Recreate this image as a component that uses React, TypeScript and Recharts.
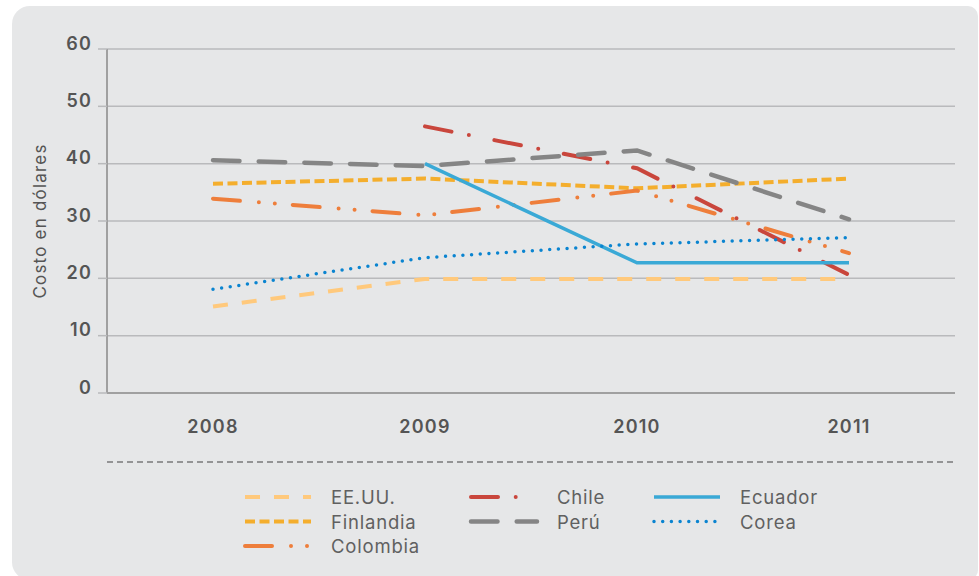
import React from 'react';
import { LineChart, Line, XAxis, YAxis, CartesianGrid, Legend } from 'recharts';

// Costo en dólares, 2008-2011
const years = ['2008', '2009', '2010', '2011'];
const eeuu = [15.1, 19.9, 19.9, 19.9];
const finlandia = [36.5, 37.4, 35.7, 37.4];
const colombia = [33.9, 31.0, 35.3, 24.4];
const chile = [null, 46.5, 39.2, 20.6];
const peru = [40.6, 39.6, 42.3, 30.3];
const ecuador = [null, 40.0, 22.7, 22.7];
const corea = [18.1, 23.6, 26.0, 27.1];

const yTicks = [0, 10, 20, 30, 40, 50, 60];
const bandEdges = [0, 1, 2, 3, 4];

const FONT = "Inter, 'Open Sans', sans-serif";

const COLORS = {
  card: '#e6e7e8',
  grid: '#b9babc',
  axis: '#a0a0a0',
  text: '#555555',
  legendText: '#606060',
};

// legend is laid out column by column (col, row)
const series = [
  { key: 'eeuu', name: 'EE.UU.', values: eeuu, color: '#ffc97c', dash: '15 14', width: 4, cap: 'butt', col: 0, row: 0 },
  { key: 'finlandia', name: 'Finlandia', values: finlandia, color: '#f4ae2d', dash: '10 4.5', width: 4, cap: 'butt', col: 0, row: 1 },
  { key: 'colombia', name: 'Colombia', values: colombia, color: '#ee7e3b', dash: '27 19 0 16 0 18', width: 4, cap: 'round', col: 0, row: 2 },
  { key: 'chile', name: 'Chile', values: chile, color: '#c9463c', dash: '27 17.7 0 26', width: 4, cap: 'round', col: 1, row: 0 },
  { key: 'peru', name: 'Perú', values: peru, color: '#858585', dash: '26.5 19.2', width: 4.5, cap: 'round', col: 1, row: 1 },
  { key: 'ecuador', name: 'Ecuador', values: ecuador, color: '#3aa9d6', dash: undefined, width: 3.5, cap: 'butt', col: 2, row: 0 },
  { key: 'corea', name: 'Corea', values: corea, color: '#0a84d0', dash: '0 8.7', width: 3.5, cap: 'round', col: 2, row: 1 },
];

const data = years.map((year, i) => {
  const row: any = { year };
  series.forEach((s) => {
    row[s.key] = s.values[i];
  });
  return row;
});

const YTick = ({ x, y, payload }: any) => (
  <text
    x={x}
    y={y - 6}
    textAnchor="end"
    dominantBaseline="central"
    fill={COLORS.text}
    fontSize={18}
    fontWeight={600}
    letterSpacing={1.2}
    fontFamily={FONT}
  >
    {payload.value}
  </text>
);

const YLabel = ({ viewBox }: any) => {
  const cx = viewBox.x + 40;
  const cy = viewBox.y + viewBox.height / 2;
  return (
    <text
      x={cx}
      y={cy}
      transform={`rotate(-90, ${cx}, ${cy})`}
      textAnchor="middle"
      dominantBaseline="central"
      fill={COLORS.text}
      fontSize={17}
      letterSpacing={1.2}
      fontFamily={FONT}
    >
      Costo en dólares
    </text>
  );
};

// custom legend: dashed separator + three columns of samples
const LegendBox = () => {
  const colX = [243, 469, 652];
  const rowY = [42, 66.5, 91];
  return (
    <svg width={979} height={110} style={{ display: 'block' }}>
      <line x1={107} x2={955} y1={7} y2={7} stroke="#7a7a7a" strokeWidth={1.3} strokeDasharray="6 4" />
      {series.map((s) => {
        const x = colX[s.col];
        const y = rowY[s.row];
        return (
          <g key={s.key}>
            <line
              x1={x + 2}
              x2={x + 68}
              y1={y}
              y2={y}
              stroke={s.color}
              strokeWidth={s.width}
              strokeDasharray={s.dash}
              strokeLinecap={s.cap as any}
            />
            <text
              x={x + 88}
              y={y}
              dominantBaseline="central"
              fill={COLORS.legendText}
              fontSize={18.5}
              letterSpacing={0.8}
              fontFamily={FONT}
            >
              {s.name}
            </text>
          </g>
        );
      })}
    </svg>
  );
};

export default function App() {
  return (
    <div style={{ position: 'absolute', left: 0, top: 0, width: 979, height: 576, background: '#ffffff', overflow: 'hidden' }}>
      <div
        style={{
          position: 'absolute',
          left: 12,
          top: 6,
          width: 966,
          height: 574,
          background: COLORS.card,
          borderRadius: '18px 10px 10px 18px',
        }}
      />
      <div style={{ position: 'absolute', left: 0, top: 0 }}>
        <LineChart width={979} height={576} data={data} margin={{ top: 49, right: 24, left: 0, bottom: 122 }}>
          <CartesianGrid vertical={false} stroke={COLORS.grid} strokeWidth={1.5} />
          <XAxis
            xAxisId="edge"
            type="number"
            domain={[0, 4]}
            ticks={bandEdges}
            allowDataOverflow
            height={1}
            tick={false}
            tickSize={8}
            axisLine={{ stroke: COLORS.axis, strokeWidth: 2 }}
            tickLine={{ stroke: COLORS.axis, strokeWidth: 2 }}
          />
          <XAxis
            xAxisId="year"
            dataKey="year"
            scale="point"
            padding={{ left: 106, right: 106 }}
            height={60}
            axisLine={false}
            tickLine={false}
            tickSize={0}
            tickMargin={26}
            tick={{ fill: COLORS.text, fontSize: 18, fontWeight: 600, fontFamily: FONT, letterSpacing: 1.2 }}
          />
          <YAxis
            width={107}
            domain={[0, 60]}
            ticks={yTicks}
            tickSize={9}
            tickMargin={6}
            tick={<YTick />}
            axisLine={{ stroke: COLORS.axis, strokeWidth: 2 }}
            tickLine={{ stroke: COLORS.grid, strokeWidth: 1.5 }}
            label={{ content: <YLabel /> }}
          />
          <Legend
            layout="horizontal"
            verticalAlign="middle"
            align="center"
            wrapperStyle={{ left: 0, top: 455, width: 979, height: 110 }}
            content={<LegendBox />}
          />
          {series.map((s) => (
            <Line
              key={s.key}
              xAxisId="year"
              type="linear"
              dataKey={s.key}
              name={s.name}
              stroke={s.color}
              strokeWidth={s.width}
              strokeDasharray={s.dash}
              strokeLinecap={s.cap as any}
              dot={false}
              activeDot={false}
              isAnimationActive={false}
            />
          ))}
        </LineChart>
      </div>
    </div>
  );
}
